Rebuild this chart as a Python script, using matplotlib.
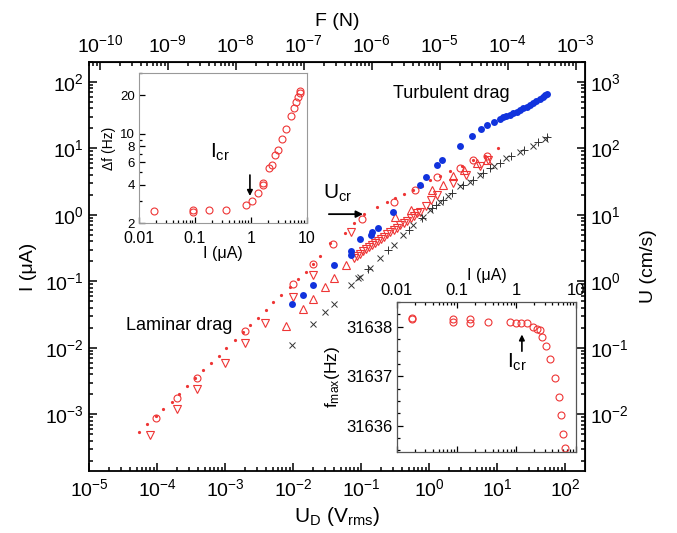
import numpy as np
import matplotlib
matplotlib.use("Agg")
import matplotlib.pyplot as plt
from matplotlib.ticker import (LogLocator, FixedLocator, NullFormatter, FixedFormatter,
                               MultipleLocator, LogFormatterSciNotation)

plt.rcParams['font.family'] = ['Liberation Sans', 'DejaVu Sans']
plt.rcParams['mathtext.fontset'] = 'custom'
plt.rcParams['mathtext.rm'] = 'Liberation Sans'
plt.rcParams['mathtext.it'] = 'Liberation Sans:italic'
plt.rcParams['mathtext.default'] = 'regular'

# ---- main plot data: U_D (V_rms) vs I (uA)
dots_ud = [5.5e-5, 7.2e-5, 9.8e-5, 1.23e-4, 1.66e-4, 2.14e-4, 2.75e-4, 3.63e-4, 4.79e-4, 6.17e-4,
           8.13e-4, 1.05e-3, 1.38e-3, 1.82e-3, 2.34e-3, 3.09e-3, 3.98e-3, 5.13e-3, 6.76e-3, 9.12e-3,
           0.012, 0.0155, 0.020, 0.025, 0.0347, 0.0575, 0.0794, 0.112, 0.17, 0.24, 0.316, 0.427,
           0.575, 0.776, 1.05, 1.45, 2.04, 3.02, 4.47, 6.6, 10.5]
dots_i = [5.4e-4, 7.2e-4, 9.5e-4, 1.2e-3, 1.55e-3, 2.04e-3, 2.63e-3, 3.47e-3, 4.57e-3, 5.89e-3,
          7.59e-3, 0.010, 0.0129, 0.017, 0.0219, 0.0282, 0.0372, 0.049, 0.0631, 0.0832,
          0.107, 0.138, 0.182, 0.24, 0.372, 0.525, 0.759, 1.035, 1.33, 1.58, 1.78, 2.04,
          2.4, 2.75, 3.3, 3.9, 4.57, 5.5, 6.6, 7.6, 10.0]

circ_ud = [9.8e-5, 2.0e-4, 3.9e-4, 2.0e-3, 0.010, 0.0195, 0.039, 0.102, 0.31, 0.62, 1.29, 2.9, 4.4, 7.1]
circ_i = [8.9e-4, 1.74e-3, 3.55e-3, 0.0182, 0.091, 0.182, 0.363, 0.86, 1.55, 2.4, 3.7, 5.0, 6.8, 7.6]

dtri_ud = [7.9e-5, 2.0e-4, 3.9e-4, 1.0e-3, 1.95e-3, 3.9e-3, 0.010, 0.020, 0.071,
           0.0776, 0.0871, 0.0955, 0.107, 0.117, 0.132, 0.145, 0.162, 0.178, 0.200, 0.219,
           0.245, 0.269, 0.302, 0.339, 0.380, 0.427, 0.479, 0.537, 0.603, 0.676, 0.741,
           0.89, 1.07, 1.29, 2.29, 3.55, 5.62, 7.41]
dtri_i = [4.8e-4, 1.2e-3, 2.4e-3, 5.9e-3, 0.0117, 0.0234, 0.059, 0.126, 0.56,
          0.224, 0.243, 0.259, 0.282, 0.302, 0.327, 0.349, 0.380, 0.405, 0.440, 0.469,
          0.509, 0.545, 0.590, 0.641, 0.697, 0.755, 0.820, 0.891, 0.966, 1.05, 1.12,
          1.35, 1.66, 2.0, 3.02, 3.98, 5.37, 6.76]

utri_ud = [7.9e-3, 0.0141, 0.020, 0.0295, 0.0398, 0.060, 0.316, 0.55, 1.1, 1.62, 2.29, 3.24, 5.0, 7.1]
utri_i = [0.0214, 0.038, 0.055, 0.083, 0.112, 0.174, 0.93, 1.2, 2.4, 2.82, 3.8, 4.8, 6.0, 6.8]

blue_ud = [9.8e-3, 0.0138, 0.020, 0.0398, 0.0708, 0.0708, 0.0955, 0.138, 0.145, 0.178, 0.295,
           0.741, 0.912, 1.32, 1.58, 2.88, 4.27, 5.75, 7.24, 8.91, 11.0, 12.3, 13.8, 15.5,
           17.4, 19.5, 21.9, 24.5, 27.5, 30.9, 33.9, 38.0, 42.7, 46.8, 51.3, 55.0]
blue_i = [0.045, 0.062, 0.089, 0.178, 0.282, 0.251, 0.437, 0.50, 0.56, 0.63, 1.12,
          2.82, 3.72, 5.62, 6.76, 11.0, 15.5, 19.5, 22.4, 25.1, 28.2, 29.5, 30.9, 32.4,
          33.9, 35.9, 38.0, 40.3, 42.7, 45.2, 47.9, 51.3, 55.0, 58.9, 63.1, 66.1]

x_ud = [9.8e-3, 0.020, 0.0295, 0.0398, 0.0708, 0.091, 0.098, 0.135, 0.19, 0.302, 0.417, 0.589,
        0.83, 1.02, 1.45, 1.91, 2.88, 3.98, 5.62, 8.9, 13.8, 21.9, 33.9, 51.3]
x_i = [0.0112, 0.0229, 0.0347, 0.0457, 0.089, 0.112, 0.117, 0.158, 0.224, 0.355, 0.50, 0.708,
       0.933, 1.2, 1.58, 1.91, 2.69, 3.16, 3.98, 5.37, 7.08, 8.9, 11.0, 14.1]

plus_ud = [0.126, 0.25, 0.5, 0.8, 1.1, 1.25, 1.6, 2.2, 3.2, 4.5, 6.3, 7.9, 11, 16, 25, 40, 55]
plus_i = [0.151, 0.295, 0.60, 0.89, 1.26, 1.41, 1.66, 2.14, 2.82, 3.39, 4.27, 5.0, 6.0, 7.6, 9.5, 12.3, 14.8]

# ---- inset 1: delta f (Hz) vs I (uA)
df_i = [0.0186, 0.091, 0.091, 0.18, 0.36, 0.81, 1.06, 1.34, 1.64, 1.64, 2.13, 2.38, 2.73, 3.05,
        3.6, 4.3, 5.2, 5.9, 6.4, 6.9, 7.4, 7.6]
df_hz = [2.47, 2.52, 2.45, 2.52, 2.54, 2.76, 3.0, 3.45, 4.1, 4.0, 5.43, 5.7, 6.8, 7.45,
         9.1, 10.9, 13.7, 15.9, 17.8, 19.4, 20.9, 21.6]

# ---- inset 2: f_max (Hz) vs I (uA)
fm_i = [0.018, 0.018, 0.086, 0.086, 0.167, 0.167, 0.33, 0.78, 0.97, 1.19, 1.49, 1.92, 2.19, 2.48,
        2.72, 3.13, 3.70, 4.49, 5.18, 5.58, 6.11, 6.52]
fm_hz = [31638.18, 31638.15, 31638.16, 31638.09, 31638.16, 31638.08, 31638.10, 31638.09, 31638.08,
         31638.08, 31638.07, 31638.00, 31637.96, 31637.93, 31637.80, 31637.61, 31637.34, 31636.96,
         31636.58, 31636.21, 31635.84, 31635.56]

# tick decades shown on each axis
ud_ticks = [1e-5, 1e-4, 1e-3, 1e-2, 1e-1, 1e0, 1e1, 1e2]
i_ticks = [1e-3, 1e-2, 1e-1, 1e0, 1e1, 1e2]
f_ticks = [1e-10, 1e-9, 1e-8, 1e-7, 1e-6, 1e-5, 1e-4, 1e-3]
u_ticks = [1e-2, 1e-1, 1e0, 1e1, 1e2, 1e3]

red = '#ee3535'
blue = '#1133dd'
gray = '#333333'


def style_log(axis, majors):
    axis.set_major_locator(FixedLocator(majors))
    axis.set_major_formatter(LogFormatterSciNotation())
    axis.set_minor_locator(LogLocator(base=10, subs=np.arange(2, 10), numticks=30))
    axis.set_minor_formatter(NullFormatter())


fig = plt.figure(figsize=(6.77, 5.33), dpi=100)
ax = fig.add_axes([0.1315, 0.1163, 0.7326, 0.7674])
ax.set_xscale('log')
ax.set_yscale('log')
ax.set_xlim(1e-5, 197)
ax.set_ylim(1.4e-4, 200)

ax.plot(dots_ud, dots_i, 'o', ms=2.3, color=red, mec='none')
ax.plot(circ_ud, circ_i, 'o', ms=5, mfc='none', mec=red, mew=0.8)
ax.plot(dtri_ud, dtri_i, 'v', ms=5.5, mfc='none', mec=red, mew=0.8)
ax.plot(utri_ud, utri_i, '^', ms=5.5, mfc='none', mec=red, mew=0.8)
ax.plot(blue_ud, blue_i, 'o', ms=5, color=blue, mec='none')
ax.plot(x_ud, x_i, 'x', ms=5, color=gray, mew=0.7)
ax.plot(plus_ud, plus_i, '+', ms=6, color=gray, mew=0.7)

for sp in ax.spines.values():
    sp.set_linewidth(1.3)
style_log(ax.xaxis, ud_ticks)
style_log(ax.yaxis, i_ticks)
ax.tick_params(which='both', direction='in', labelsize=14, width=1.1)
ax.tick_params(which='major', length=6)
ax.tick_params(which='minor', length=3)
ax.tick_params(axis='x', pad=5)
ax.set_xlabel('U$_D$ (V$_{rms}$)', fontsize=15, labelpad=4)
ax.set_ylabel('I (\u03bcA)', fontsize=14, labelpad=6)

top = ax.secondary_xaxis('top', functions=(lambda x: x * 10**-5.16, lambda f: f / 10**-5.16))
top.set_xscale('log')
style_log(top.xaxis, f_ticks)
top.tick_params(which='both', direction='in', labelsize=14, width=1.1, pad=4)
top.tick_params(which='major', length=6)
top.tick_params(which='minor', length=3)
top.set_xlabel('F (N)', fontsize=14, labelpad=6)

right = ax.secondary_yaxis('right', functions=(lambda i: i * 10, lambda u: u / 10))
right.set_yscale('log')
style_log(right.yaxis, u_ticks)
right.tick_params(which='both', direction='in', labelsize=14, width=1.1)
right.tick_params(which='major', length=6)
right.tick_params(which='minor', length=3)
right.set_ylabel('U (cm/s)', fontsize=14, labelpad=8)

ax.text(0.73, 0.924, 'Turbulent drag', transform=ax.transAxes, fontsize=13, ha='center', va='center')
ax.text(0.181, 0.355, 'Laminar drag', transform=ax.transAxes, fontsize=13, ha='center', va='center')
ax.text(0.502, 0.679, 'U$_{cr}$', transform=ax.transAxes, fontsize=15, ha='center', va='center')
ax.annotate('', xy=(0.558, 0.628), xytext=(0.478, 0.628), xycoords='axes fraction',
            arrowprops=dict(arrowstyle='-|>', color='black', lw=1.3, mutation_scale=10))

# ---- inset 1
ins1 = fig.add_axes([0.2053, 0.5816, 0.248, 0.2814])
ins1.set_xscale('log')
ins1.set_yscale('log')
ins1.set_xlim(0.01, 10)
ins1.set_ylim(2, 30)
ins1.plot(df_i, df_hz, 'o', ms=5, mfc='none', mec=red, mew=0.8)
for sp in ins1.spines.values():
    sp.set_color('#999999')
    sp.set_linewidth(0.8)
ins1.xaxis.set_major_locator(FixedLocator([0.01, 0.1, 1, 10]))
ins1.xaxis.set_major_formatter(FixedFormatter(['0.01', '0.1', '1', '10']))
ins1.xaxis.set_minor_locator(LogLocator(base=10, subs=np.arange(2, 10), numticks=20))
ins1.xaxis.set_minor_formatter(NullFormatter())
ins1.yaxis.set_major_locator(FixedLocator([2, 4, 6, 8, 10, 20]))
ins1.yaxis.set_major_formatter(FixedFormatter(['2', '4', '6', '8', '10', '20']))
ins1.yaxis.set_minor_locator(FixedLocator([3, 5, 7, 9, 30]))
ins1.yaxis.set_minor_formatter(NullFormatter())
ins1.tick_params(which='both', direction='in', width=0.9, top=False, right=False, pad=3)
ins1.tick_params(axis='x', labelsize=11.5, pad=6)
ins1.tick_params(axis='y', labelsize=9.5)
ins1.tick_params(which='major', length=4)
ins1.tick_params(which='minor', length=2)
ins1.set_xlabel('I (\u03bcA)', fontsize=11.5, labelpad=0)
ins1.set_ylabel('\u0394f (Hz)', fontsize=10, labelpad=3)
ins1.text(0.48, 0.47, 'I$_{cr}$', transform=ins1.transAxes, fontsize=15, ha='center', va='center')
ins1.annotate('', xy=(0.96, 3.1), xytext=(0.96, 5.0),
              arrowprops=dict(arrowstyle='-|>', color='black', lw=1.2, mutation_scale=8))

# ---- inset 2
ins2 = fig.add_axes([0.5864, 0.152, 0.2644, 0.2814])
ins2.set_xscale('log')
ins2.set_xlim(0.01, 10)
ins2.set_ylim(31635.47, 31638.5)
ins2.plot(fm_i, fm_hz, 'o', ms=5, mfc='none', mec=red, mew=0.8)
for sp in ins2.spines.values():
    sp.set_color('#555555')
    sp.set_linewidth(0.9)
ins2.xaxis.set_major_locator(FixedLocator([0.01, 0.1, 1, 10]))
ins2.xaxis.set_major_formatter(FixedFormatter(['0.01', '0.1', '1', '10']))
ins2.xaxis.set_minor_locator(LogLocator(base=10, subs=np.arange(2, 10), numticks=20))
ins2.xaxis.set_minor_formatter(NullFormatter())
ins2.yaxis.set_major_locator(FixedLocator([31636, 31637, 31638]))
ins2.yaxis.set_major_formatter(FixedFormatter(['31636', '31637', '31638']))
ins2.yaxis.set_minor_locator(MultipleLocator(0.25))
ins2.tick_params(which='both', direction='in', labelsize=12, width=0.9,
                 top=True, bottom=True, labeltop=True, labelbottom=False, right=False, pad=3)
ins2.tick_params(which='major', length=4)
ins2.tick_params(which='minor', length=2)
ins2.xaxis.set_label_position('top')
ins2.set_xlabel('I (\u03bcA)', fontsize=11.5, labelpad=2)
ins2.set_ylabel('f$_{max}$(Hz)', fontsize=12.5, labelpad=3)
ins2.text(0.67, 0.6, 'I$_{cr}$', transform=ins2.transAxes, fontsize=15, ha='center', va='center')
ins2.annotate('', xy=(1.24, 31637.9), xytext=(1.24, 31637.45),
              arrowprops=dict(arrowstyle='-|>', color='black', lw=1.2, mutation_scale=8))

fig.savefig('out.png', dpi=100)
